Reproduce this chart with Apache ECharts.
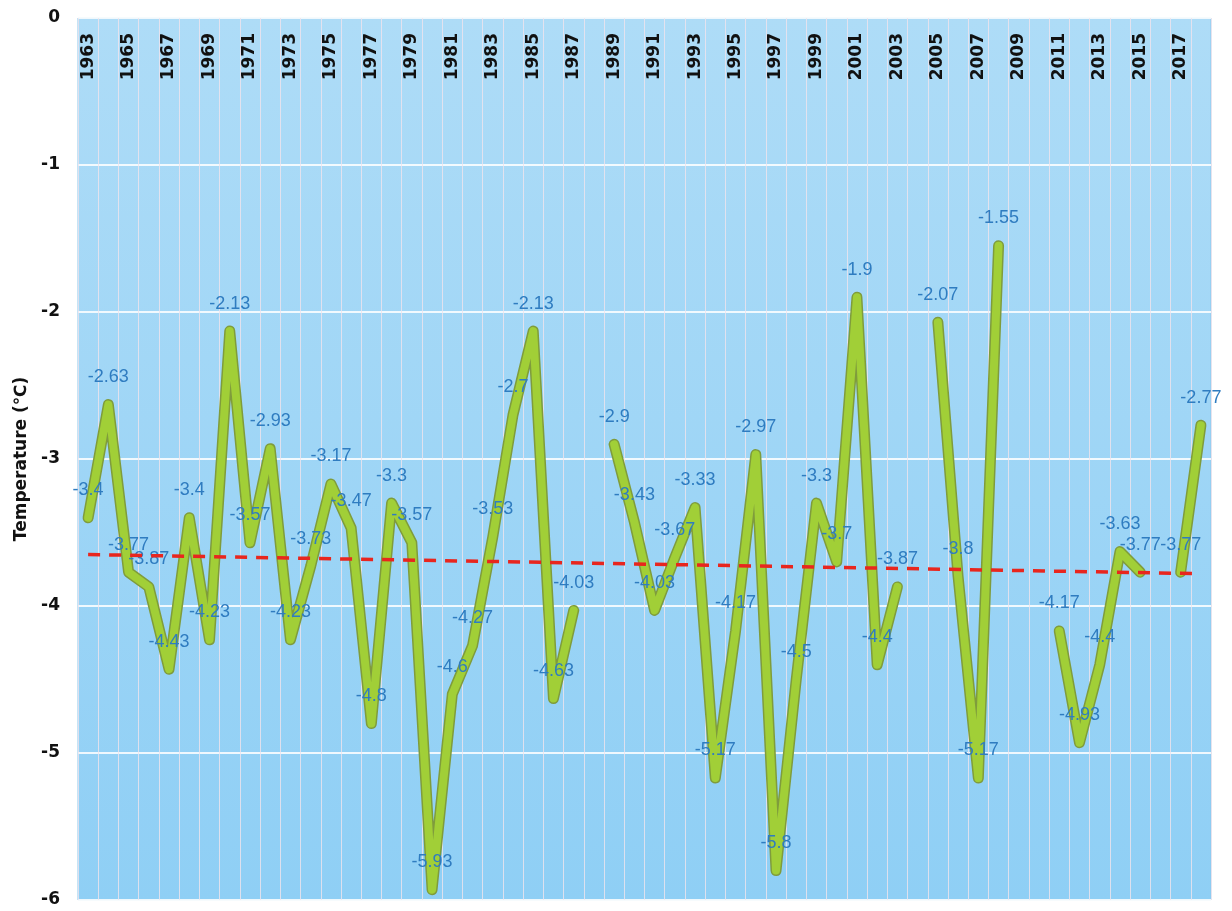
<!DOCTYPE html>
<html><head><meta charset="utf-8">
<script src="https://cdn.jsdelivr.net/npm/echarts/dist/echarts.min.js"></script>
<style>html,body{margin:0;padding:0;background:#fff}#c{width:1232px;height:911px}</style>
</head><body><div id="c"></div>
<script>
const years = ['1963','1964','1965','1966','1967','1968','1969','1970','1971','1972',
  '1973','1974','1975','1976','1977','1978','1979','1980','1981','1982',
  '1983','1984','1985','1986','1987','1988','1989','1990','1991','1992',
  '1993','1994','1995','1996','1997','1998','1999','2000','2001','2002',
  '2003','2004','2005','2006','2007','2008','2009','2010','2011','2012',
  '2013','2014','2015','2016','2017','2018'];
const temps = [-3.4,-2.63,-3.77,-3.87,-4.43,-3.4,-4.23,-2.13,-3.57,-2.93,
  -4.23,-3.73,-3.17,-3.47,-4.8,-3.3,-3.57,-5.93,-4.6,-4.27,
  -3.53,-2.7,-2.13,-4.63,-4.03,null,-2.9,-3.43,-4.03,-3.67,
  -3.33,-5.17,-4.17,-2.97,-5.8,-4.5,-3.3,-3.7,-1.9,-4.4,
  -3.87,null,-2.07,-3.8,-5.17,-1.55,null,null,-4.17,-4.93,
  -4.4,-3.63,-3.77,null,-3.77,-2.77];
const trendEnds = [-3.65, -3.78];
const yAxisName = 'Temperature (℃)';

const chart = echarts.init(document.getElementById('c'), null, {renderer: 'canvas'});
const axisFont = {fontFamily: 'DejaVu Sans', fontWeight: 'bold', fontSize: 17, color: '#111'};
chart.setOption({
  animation: false,
  grid: {
    left: 78, right: 21, top: 18, bottom: 11, show: true,
    containLabel: false, outerBoundsMode: 'none',
    backgroundColor: new echarts.graphic.LinearGradient(0, 0, 0, 1, [
      {offset: 0, color: '#aedcf7'}, {offset: 1, color: '#8fcff5'}]),
    borderColor: '#8cc8ec', borderWidth: 1
  },
  xAxis: {
    type: 'category', data: years, boundaryGap: true, position: 'top',
    axisLine: {show: false, onZero: false},
    axisTick: {show: false},
    axisLabel: Object.assign({interval: 1, rotate: -90, margin: 15, inside: true}, axisFont),
    splitLine: {show: true, interval: 0, lineStyle: {color: 'rgba(240,228,236,0.8)', width: 1}}
  },
  yAxis: {
    type: 'value', min: -6, max: 0, interval: 1,
    axisLine: {show: false}, axisTick: {show: false},
    axisLabel: Object.assign({margin: 18}, axisFont),
    splitLine: {show: true, lineStyle: {color: 'rgba(255,255,255,0.85)', width: 2}},
    name: yAxisName, nameLocation: 'middle', nameGap: 48,
    nameTextStyle: axisFont
  },
  series: [
    {
      type: 'line', data: temps, symbol: 'none', silent: true, z: 2,
      lineStyle: {color: '#7f9c3c', width: 11, cap: 'round', join: 'round'}
    },
    {
      type: 'line', data: temps, symbol: 'circle', symbolSize: 1, z: 3,
      itemStyle: {color: 'rgba(0,0,0,0)'},
      lineStyle: {color: '#a1cf37', width: 8, cap: 'round', join: 'round'},
      label: {show: true, position: 'top', distance: 18, color: '#2f7cc0',
        fontSize: 18, fontFamily: 'Liberation Sans'}
    },
    {
      type: 'line', data: [], z: 4,
      markLine: {
        silent: true, symbol: ['none', 'none'], label: {show: false},
        lineStyle: {color: '#e8261e', width: 3.5, type: [12, 9]},
        data: [[{coord: [years[0], trendEnds[0]]}, {coord: [years[years.length - 1], trendEnds[1]]}]]
      }
    }
  ]
});
</script>
</body></html>
